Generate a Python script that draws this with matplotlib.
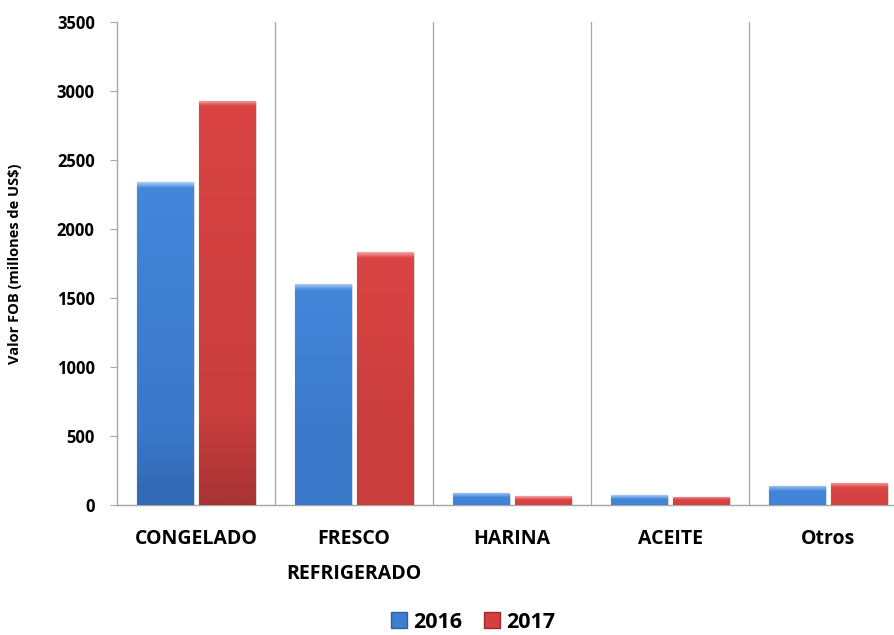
import matplotlib.pyplot as plt
import numpy as np
from matplotlib.colors import LinearSegmentedColormap
from matplotlib.patches import Patch

# export values (millones de US$)
categorias = ["CONGELADO", "FRESCO\nREFRIGERADO", "HARINA", "ACEITE", "Otros"]
valores_2016 = [2340, 1600, 87, 72, 138]
valores_2017 = [2928, 1833, 65, 58, 160]
anios = ["2016", "2017"]

plt.rcParams['font.family'] = ['Open Sans', 'DejaVu Sans']

fig = plt.figure(figsize=(8.95, 6.35), dpi=100)
ax = fig.add_axes([117 / 895, 1 - 505 / 635, 790 / 895, 483 / 635])

x = np.arange(len(categorias))
w = 0.355
off = 0.195

cmap_azul = LinearSegmentedColormap.from_list(
    "azul", [(0, "#a9cdf6"), (0.1, "#4386da"), (0.8, "#3a77c9"), (1, "#3166ae")])
cmap_rojo = LinearSegmentedColormap.from_list(
    "rojo", [(0, "#f4a3a3"), (0.1, "#da4444"), (0.8, "#c93d3d"), (1, "#a83333")])

b1 = ax.bar(x - off, valores_2016, w, color="#3d7dd2", edgecolor="#2f5f9e", linewidth=0.8, zorder=3)
b2 = ax.bar(x + off, valores_2017, w, color="#d43f3f", edgecolor="#9c2e2e", linewidth=0.8, zorder=3)

# gradient fill clipped to each bar: light strip on top, darker towards the base
for bars, cm in [(b1, cmap_azul), (b2, cmap_rojo)]:
    for r in bars:
        x0, y0 = r.get_x(), r.get_y()
        h = r.get_height()
        d = np.linspace(0, h, 512)
        hl = min(40.0, h * 0.4)
        g = np.where(d < hl, 0.1 * d / hl, 0.1 + 0.9 * (d - hl) / max(h - hl, 1e-6))
        g = np.minimum(g, 0.1 + 0.9 * np.clip(h / 2500, 0.15, 1))
        im = ax.imshow(g.reshape(-1, 1), cmap=cm, aspect="auto",
                       extent=[x0, x0 + r.get_width(), y0, y0 + h],
                       origin="upper", zorder=3.5, vmin=0, vmax=1)
        im.set_clip_path(r)
        # soft shadow
        ax.bar(x0 + r.get_width() / 2 + 0.012, h, r.get_width(), bottom=-8, color="#000000",
               alpha=0.12, zorder=2.5, linewidth=0)

ax.set_xlim(-0.5, len(categorias) - 0.5)
ax.set_ylim(0, 3500)
ax.set_yticks(np.arange(0, 3501, 500))
ax.set_xticks(x)
ax.set_xticklabels(categorias, fontsize=14, fontweight="bold", linespacing=2.0, va="top")
ax.tick_params(axis="x", length=0, pad=17)
ax.tick_params(axis="y", direction="out", length=5, color="#a6a6a6", labelsize=12, pad=11)
for lab in ax.get_yticklabels():
    lab.set_fontweight("bold")

for xv in np.arange(0.5, len(categorias) - 0.5, 1):
    ax.axvline(xv, color="#a6a6a6", linewidth=0.9, zorder=1)

for s in ["top", "right"]:
    ax.spines[s].set_visible(False)
for s in ["left", "bottom"]:
    ax.spines[s].set_color("#a6a6a6")
    ax.spines[s].set_linewidth(1.0)

ax.set_ylabel("Valor FOB (millones de US$)", fontsize=10.5, fontweight="bold", labelpad=25)

handles = [Patch(facecolor="#3d7dd2", edgecolor="#2f5f9e"), Patch(facecolor="#d43f3f", edgecolor="#9c2e2e")]
fig.legend(handles, anios, loc="center", bbox_to_anchor=(473 / 895, 1 - 622 / 635), ncol=2,
           frameon=False, prop={"weight": "bold", "size": 15.5}, handlelength=0.75, handleheight=0.75,
           handletextpad=0.3, columnspacing=1.0)

fig.savefig("out.png", dpi=100)
